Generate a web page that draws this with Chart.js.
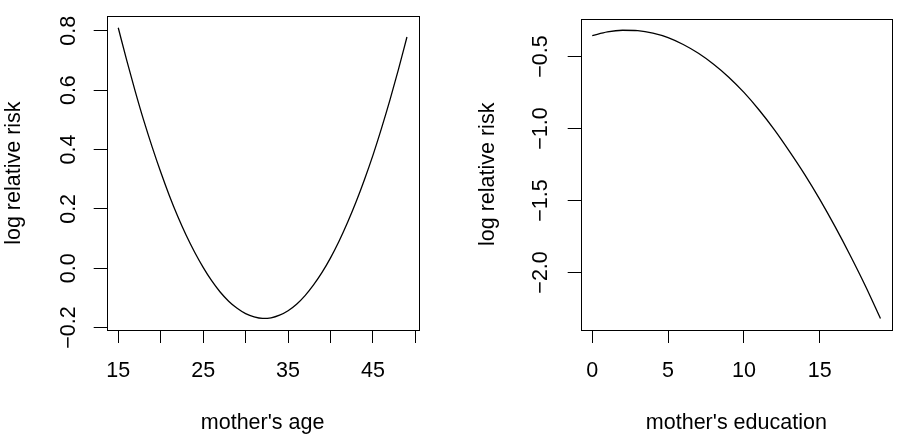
<!DOCTYPE html>
<html>
<head>
<meta charset="utf-8">
<script src="https://cdn.jsdelivr.net/npm/chart.js@4/dist/chart.umd.min.js"></script>
<style>
  html, body { margin: 0; padding: 0; background: #fff; }
  #wrap { position: relative; width: 897px; height: 436px; }
  canvas { position: absolute; top: 0; }
</style>
</head>
<body>
<div id="wrap">
  <canvas id="agePanel" width="449" height="436" style="left:0px"></canvas>
  <canvas id="eduPanel" width="448" height="436" style="left:449px"></canvas>
</div>
<script>
// left panel: mother's age
var ageX = [15, 16, 17, 18, 19, 20, 21, 22, 23, 24, 25, 26, 27, 28, 29, 30, 31, 32,
            33, 34, 35, 36, 37, 38, 39, 40, 41, 42, 43, 44, 45, 46, 47, 48, 49];
var ageRisk = [0.810, 0.700, 0.596, 0.498, 0.408, 0.324, 0.246, 0.175, 0.111, 0.054,
               0.003, -0.042, -0.080, -0.111, -0.135, -0.153, -0.164, -0.169,
               -0.167, -0.158, -0.143, -0.121, -0.092, -0.056, -0.014, 0.035, 0.091,
               0.154, 0.223, 0.299, 0.381, 0.471, 0.567, 0.670, 0.779];
var ageTicks = [15, 20, 25, 30, 35, 40, 45, 50];
var ageTickLabels = [15, 25, 35, 45];
var ageRiskTicks = [-0.2, 0.0, 0.2, 0.4, 0.6, 0.8];

// right panel: mother's education
var eduX = [0, 1, 2, 3, 4, 5, 6, 7, 8, 9, 10, 11, 12, 13, 14, 15, 16, 17, 18, 19];
var eduRisk = [-0.354, -0.328, -0.317, -0.320, -0.337, -0.368, -0.416, -0.477, -0.553,
               -0.643, -0.749, -0.871, -1.007, -1.158, -1.318, -1.492, -1.680, -1.880,
               -2.092, -2.320];
var eduTicks = [0, 5, 10, 15];
var eduTickLabels = [0, 5, 10, 15];
var eduRiskTicks = [-2.0, -1.5, -1.0, -0.5];

var yTitle = 'log relative risk';

var FONT = { family: '"Liberation Sans", Arial, Helvetica, sans-serif', size: 21.5 };

// draws the R style box around the plot region
var boxPlugin = {
  id: 'rBox',
  afterDraw: function(chart) {
    var a = chart.chartArea;
    var ctx = chart.ctx;
    ctx.save();
    ctx.strokeStyle = '#000';
    ctx.lineWidth = 1;
    var l = Math.round(a.left) + 0.5, t = Math.round(a.top) + 0.5;
    var r = Math.round(a.right) + 0.5, b = Math.round(a.bottom) + 0.5;
    ctx.strokeRect(l, t, r - l, b - t);
    ctx.restore();
  }
};

function fmtRisk(v) {
  return v.toFixed(1).replace('-', '\u2212');
}

function makePanel(id, xs, ys, cfg) {
  var pts = [];
  for (var i = 0; i < xs.length; i++) {
    pts.push({ x: xs[i], y: ys[i] });
  }
  return new Chart(document.getElementById(id), {
    type: 'line',
    data: {
      datasets: [{
        data: pts,
        borderColor: '#000',
        borderWidth: 1.3,
        pointRadius: 0,
        fill: false,
        cubicInterpolationMode: 'monotone'
      }]
    },
    options: {
      responsive: false,
      animation: false,
      devicePixelRatio: 1,
      layout: { padding: cfg.padding },
      plugins: { legend: { display: false }, tooltip: { enabled: false } },
      scales: {
        x: {
          type: 'linear',
          min: cfg.xMin,
          max: cfg.xMax,
          border: { display: false },
          grid: { drawOnChartArea: false, drawTicks: true, tickLength: 13, color: '#000', lineWidth: 1 },
          afterBuildTicks: function(scale) {
            scale.ticks = cfg.xTicks.map(function(v) { return { value: v }; });
          },
          afterFit: function(scale) { scale.height = 106; },
          ticks: {
            autoSkip: false,
            maxRotation: 0,
            padding: 15.5,
            color: '#000',
            font: FONT,
            callback: function(v) {
              return cfg.xLabels.indexOf(v) >= 0 ? String(v) : '';
            }
          },
          title: {
            display: true,
            text: cfg.xTitle,
            color: '#000',
            font: FONT,
            padding: { top: 0, bottom: 0.5 }
          }
        },
        y: {
          type: 'linear',
          min: cfg.yMin,
          max: cfg.yMax,
          border: { display: false },
          grid: { drawOnChartArea: false, drawTicks: true, tickLength: 13, color: '#000', lineWidth: 1 },
          afterBuildTicks: function(scale) {
            scale.ticks = cfg.yTicks.map(function(v) { return { value: v }; });
          },
          afterFit: function(scale) { scale.width = cfg.yWidth; },
          ticks: {
            autoSkip: false,
            minRotation: 90,
            maxRotation: 90,
            crossAlign: 'center',
            padding: cfg.yTickPad,
            color: '#000',
            font: FONT,
            callback: function(v) { return fmtRisk(v); }
          },
          title: {
            display: true,
            text: yTitle,
            color: '#000',
            font: FONT,
            padding: { top: cfg.yTitlePad, bottom: 0 }
          }
        }
      }
    },
    plugins: [boxPlugin]
  });
}

makePanel('agePanel', ageX, ageRisk, {
  padding: { left: 0, top: 7.5, right: 30.5, bottom: 0 },
  xMin: 13.64, xMax: 50.36,
  yMin: -0.208, yMax: 0.849,
  xTicks: ageTicks, xLabels: ageTickLabels,
  yTicks: ageRiskTicks,
  yWidth: 106.7, yTickPad: 3.3, yTitlePad: 1.4,
  xTitle: "mother's age"
});

makePanel('eduPanel', eduX, eduRisk, {
  padding: { left: 0, top: 8.3, right: 5, bottom: 0 },
  xMin: -0.76, xMax: 19.76,
  yMin: -2.400, yMax: -0.236,
  xTicks: eduTicks, xLabels: eduTickLabels,
  yTicks: eduRiskTicks,
  yWidth: 131.7, yTickPad: 5.7, yTitlePad: 26.4,
  xTitle: "mother's education"
});
</script>
</body>
</html>
